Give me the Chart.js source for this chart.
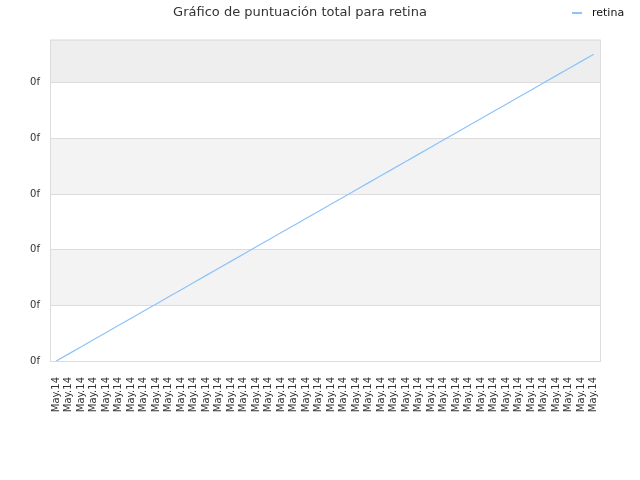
<!DOCTYPE html>
<html>
<head>
<meta charset="utf-8">
<script src="https://cdn.jsdelivr.net/npm/chart.js@4/dist/chart.umd.min.js"></script>
<style>
  html, body { margin: 0; padding: 0; background: #fff; }
  #wrap { width: 640px; height: 480px; }
</style>
</head>
<body>
<div id="wrap"><canvas id="c" width="640" height="480"></canvas></div>
<script>
const titulo = 'Gráfico de puntuación total para retina'
const serieNombre = 'retina'
const fechas = ['May.14','May.14','May.14','May.14','May.14','May.14','May.14','May.14','May.14','May.14',
                'May.14','May.14','May.14','May.14','May.14','May.14','May.14','May.14','May.14','May.14',
                'May.14','May.14','May.14','May.14','May.14','May.14','May.14','May.14','May.14','May.14',
                'May.14','May.14','May.14','May.14','May.14','May.14','May.14','May.14','May.14','May.14',
                'May.14','May.14','May.14','May.14']
const puntos = [0,1,2,3,4,5,6,7,8,9,10,11,12,13,14,15,16,17,18,19,20,
                21,22,23,24,25,26,27,28,29,30,31,32,33,34,35,36,37,38,39,40,41,42,43]
const etiquetaY = '0f'

const colorLinea = 'rgb(140,195,248)'
const fuente = 'DejaVu Sans'

// fondo a bandas + borde del area
const bandas = {
    id: 'bandas',
    beforeDraw(chart) {
        const {ctx, chartArea: a, scales: {y}} = chart
        const ticks = y.ticks
        ctx.save()
        for (let i = 0; i < ticks.length; i++) {
            const y0 = y.getPixelForValue(ticks[i].value)
            const y1 = i < ticks.length - 1 ? y.getPixelForValue(ticks[i+1].value) : a.top
            if (i % 2 == 1) {
                ctx.fillStyle = i == ticks.length - 1 ? '#eeeeee' : '#f3f3f3'
                ctx.fillRect(a.left, y1, a.right - a.left, y0 - y1)
            }
        }
        ctx.restore()
    },
    afterDraw(chart) {
        const {ctx, chartArea: a} = chart
        ctx.save()
        ctx.strokeStyle = '#dcdcdc'
        ctx.lineWidth = 1
        ctx.strokeRect(a.left + 0.5, a.top + 0.5, a.right - a.left, a.bottom - a.top)
        // leyenda
        const ds = chart.data.datasets[0]
        ctx.strokeStyle = ds.borderColor
        ctx.lineWidth = 2
        ctx.beginPath()
        ctx.moveTo(572, 13)
        ctx.lineTo(582, 13)
        ctx.stroke()
        ctx.fillStyle = '#111'
        ctx.font = '11px "' + fuente + '"'
        ctx.textBaseline = 'middle'
        ctx.fillText(ds.label, 592, 13)
        ctx.restore()
    }
}

new Chart(document.getElementById('c'), {
    type: 'line',
    data: {
        labels: fechas,
        datasets: [{
            label: serieNombre,
            data: puntos,
            borderColor: colorLinea,
            backgroundColor: colorLinea,
            borderWidth: 1.2,
            pointRadius: 0,
            tension: 0,
            fill: false
        }]
    },
    options: {
        responsive: false,
        animation: false,
        layout: { padding: { left: 0, right: 40, top: 0, bottom: 0 } },
        plugins: {
            legend: { display: false },
            tooltip: { enabled: false },
            title: {
                display: true,
                text: titulo,
                color: '#333',
                font: { family: fuente, size: 13, weight: 'normal' },
                padding: { top: 5, bottom: 19 }
            }
        },
        scales: {
            x: {
                type: 'category',
                offset: true,
                grid: { display: false },
                border: { display: false },
                ticks: {
                    autoSkip: false,
                    maxRotation: 90,
                    minRotation: 90,
                    color: '#333',
                    padding: 8,
                    font: { family: fuente, size: 10 }
                },
                afterFit: s => { s.height = 119 }
            },
            y: {
                min: 0,
                max: 45.05,
                grid: { color: '#dcdcdc', drawTicks: false },
                border: { display: false },
                ticks: {
                    stepSize: 7.8,
                    color: '#333',
                    padding: 10,
                    font: { family: fuente, size: 10 },
                    callback: () => etiquetaY
                },
                afterBuildTicks: s => { s.ticks = s.ticks.filter(t => t.value < 40) },
                afterFit: s => { s.width = 50 }
            }
        }
    },
    plugins: [bandas]
})
</script>
</body>
</html>
